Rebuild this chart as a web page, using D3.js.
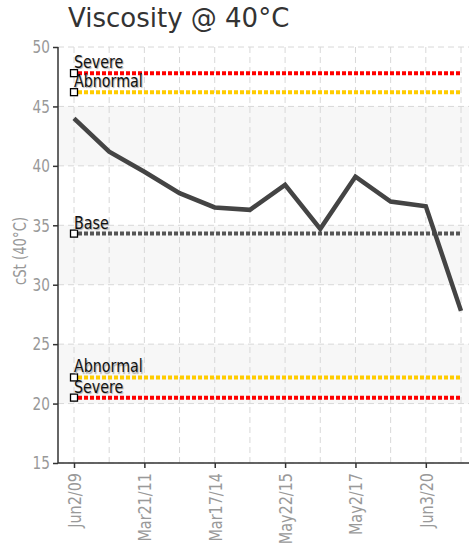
<!DOCTYPE html>
<html>
<head>
	<meta charset="UTF-8" />
	<title>Viscosity @ 40°C</title>
	<script src="https://cdn.jsdelivr.net/npm/d3@7"></script>
	<style>
		body { margin:0; background:#fff; }
		text { font-family:"DejaVu Sans",sans-serif; }
	</style>
</head>
<body>
	<div id="chart"></div>
	<script type="text/javascript">
		// sample dates, every other one labelled
		var dates = ["Jun2/09","","Mar21/11","","Mar17/14","","May22/15","","May2/17","","Jun3/20",""];
		var viscosity = [44.0, 41.2, 39.5, 37.7, 36.5, 36.3, 38.4, 34.7, 39.1, 37.0, 36.6, 27.8];
		var yTicks = [15, 20, 25, 30, 35, 40, 45, 50];
		var limitNames = ["Severe","Abnormal","Base","Abnormal","Severe"];
		var limitValues = [47.8, 46.2, 34.3, 22.2, 20.5];
		var limitColors = ["#ff0000","#ffcc00","#555555","#ffcc00","#ff0000"];

		var W = 469, H = 547;
		var m = {top:47, left:58, right:0, bottom:84};
		var NARROW = 0.76; // no condensed font here, squeeze text instead
		var svg = d3.select("#chart").append("svg").attr("width",W).attr("height",H);

		var x = d3.scalePoint().domain(d3.range(dates.length)).range([74, 461]);
		var y = d3.scaleLinear().domain([15,50]).range([H-m.bottom, m.top]);

		// alternating bands
		for (var i=0;i<yTicks.length-1;i++) {
			if (i%2==0) continue;
			svg.append("rect")
				.attr("x",m.left).attr("width",W-m.left)
				.attr("y",y(yTicks[i+1])).attr("height",y(yTicks[i])-y(yTicks[i+1]))
				.attr("fill","#f7f7f7");
		}

		// grid
		svg.append("g").selectAll("line").data(yTicks).join("line")
			.attr("x1",m.left).attr("x2",W)
			.attr("y1",d=>y(d)).attr("y2",d=>y(d))
			.attr("stroke","#d8d8d8").attr("stroke-dasharray","6,4");
		svg.append("g").selectAll("line").data(d3.range(dates.length)).join("line")
			.attr("x1",d=>x(d)).attr("x2",d=>x(d))
			.attr("y1",m.top).attr("y2",y(15))
			.attr("stroke","#d8d8d8").attr("stroke-dasharray","6,4");

		// axes
		var yAxis = svg.append("g").attr("transform","translate("+m.left+",0)")
			.call(d3.axisLeft(y).tickValues(yTicks).tickSize(5));
		yAxis.attr("font-family",null);
		yAxis.select(".domain").attr("stroke","#333").attr("stroke-width",1.5).attr("d","M0,"+m.top+"V"+y(15));
		yAxis.selectAll(".tick line").attr("stroke","#333").attr("stroke-width",1.5);
		yAxis.selectAll("text").attr("font-size",18).attr("fill","#999")
			.attr("x",-8/NARROW).attr("transform","scale("+NARROW+",1)");

		var xAxis = svg.append("g").attr("transform","translate(0,"+y(15)+")")
			.call(d3.axisBottom(x).tickFormat(d=>dates[d]).tickSize(5));
		xAxis.attr("font-family",null);
		xAxis.select(".domain").attr("stroke","#333").attr("stroke-width",1.5).attr("d","M"+m.left+",0H"+W);
		xAxis.selectAll(".tick line").attr("stroke",d=>dates[d]?"#333":"none").attr("stroke-width",1.5);
		xAxis.selectAll("text").attr("font-size",18).attr("fill","#999")
			.attr("transform","rotate(-90) scale(0.8,1)").attr("text-anchor","end")
			.attr("x",-10/0.8).attr("y",0).attr("dy","0.35em");

		// y title
		svg.append("text")
			.attr("transform","translate(26,251) rotate(-90) scale(0.78,1)")
			.attr("text-anchor","middle").attr("font-size",17).attr("fill","#999")
			.text("cSt (40°C)");

		// title
		svg.append("text").attr("x",68).attr("y",27)
			.attr("font-size",26).attr("fill","#333")
			.text("Viscosity @ 40°C");

		// limit lines
		var limits = svg.append("g");
		limitValues.forEach(function(v,i) {
			limits.append("line")
				.attr("x1",x(0)+4).attr("x2",x(dates.length-1))
				.attr("y1",y(v)).attr("y2",y(v))
				.attr("stroke",limitColors[i]).attr("stroke-width",4).attr("stroke-dasharray","4,2");
		});

		// main series
		var line = d3.line().x((d,i)=>x(i)).y(d=>y(d));
		svg.append("path").datum(viscosity)
			.attr("d",line).attr("fill","none")
			.attr("stroke","#444").attr("stroke-width",4.5).attr("stroke-linejoin","miter");

		// limit labels + markers
		limitValues.forEach(function(v,i) {
			limits.append("rect")
				.attr("x",x(0)-3.5).attr("y",y(v)-3.5).attr("width",7).attr("height",7)
				.attr("fill","#fff").attr("stroke","#000").attr("stroke-width",1.3);
			limits.append("text")
				.attr("transform","translate("+x(0)+","+(y(v)-5)+") scale(0.84,1)")
				.attr("font-size",17).attr("fill","#111")
				.style("text-shadow","1px 1px 1px #aaa")
				.text(limitNames[i]);
		});
	</script>
</body>
</html>
